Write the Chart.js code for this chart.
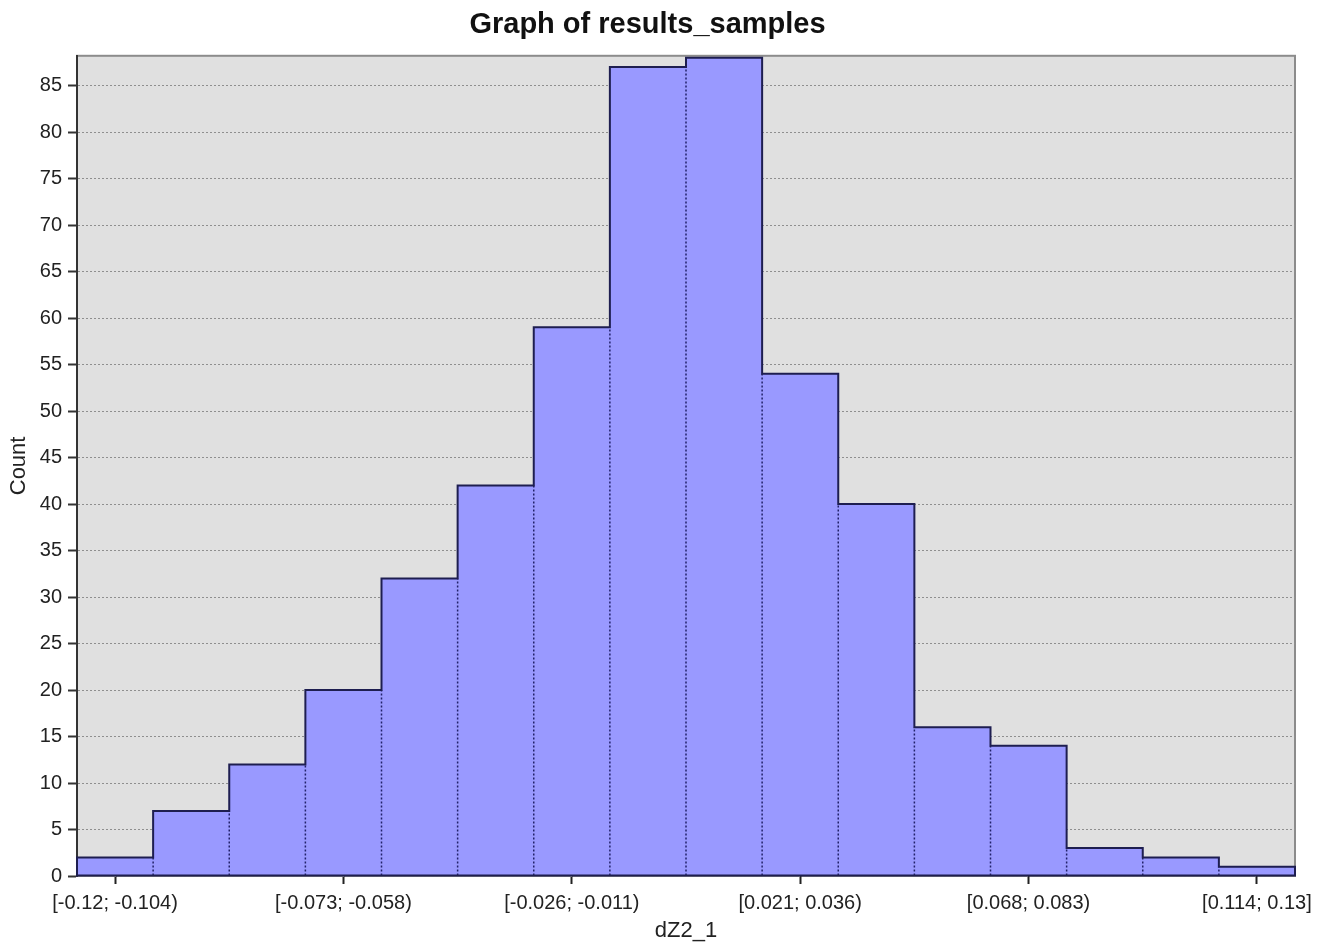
<!DOCTYPE html>
<html>
<head>
<meta charset="utf-8">
<title>Graph of results_samples</title>
<script src="https://cdn.jsdelivr.net/npm/chart.js@4.4.1/dist/chart.umd.min.js"></script>
<style>
  body { margin: 0; background: #fff; }
  canvas { display: block; }
</style>
</head>
<body>
<canvas id="histChart" width="1328" height="948"></canvas>
<script>
// bins of dZ2_1 and their counts
var binLabels = [
  '[-0.12; -0.104)', '[-0.104; -0.089)', '[-0.089; -0.073)', '[-0.073; -0.058)',
  '[-0.058; -0.042)', '[-0.042; -0.026)', '[-0.026; -0.011)', '[-0.011; 0.005)',
  '[0.005; 0.021)', '[0.021; 0.036)', '[0.036; 0.052)', '[0.052; 0.068)',
  '[0.068; 0.083)', '[0.083; 0.099)', '[0.099; 0.114)', '[0.114; 0.13]'
];
var counts = [2, 7, 12, 20, 32, 42, 59, 87, 88, 54, 40, 16, 14, 3, 2, 1];
var shownBins = [0, 3, 6, 9, 12, 15];
var yTickValues = [0, 5, 10, 15, 20, 25, 30, 35, 40, 45, 50, 55, 60, 65, 70, 75, 80, 85];
var yMax = 88.2;

Chart.defaults.font.family = "'Liberation Sans', Arial, sans-serif";
Chart.defaults.color = '#222';

// grey plot background with frame
var plotFrame = {
  id: 'plotFrame',
  beforeDraw: function(chart) {
    var a = chart.chartArea, ctx = chart.ctx;
    ctx.save();
    ctx.fillStyle = '#e0e0e0';
    ctx.fillRect(a.left, a.top, a.right - a.left, a.bottom - a.top);
    ctx.strokeStyle = '#8c8c8c';
    ctx.lineWidth = 2;
    ctx.strokeRect(a.left, a.top, a.right - a.left, a.bottom - a.top);
    ctx.restore();
  }
};

// solid step outline + dotted dividers between bins
var histOutline = {
  id: 'histOutline',
  afterDatasetsDraw: function(chart) {
    var bars = chart.getDatasetMeta(0).data;
    var ctx = chart.ctx;
    var props = bars.map(function(b) { return b.getProps(['x', 'y', 'base', 'width'], true); });
    ctx.save();
    ctx.strokeStyle = '#22226a';
    ctx.lineWidth = 1.5;
    ctx.setLineDash([2, 2]);
    for (var i = 1; i < props.length; i++) {
      var p = props[i - 1], q = props[i];
      var xb = p.x + p.width / 2;
      ctx.beginPath();
      ctx.moveTo(xb, p.base);
      ctx.lineTo(xb, Math.max(p.y, q.y));
      ctx.stroke();
    }
    ctx.setLineDash([]);
    ctx.beginPath();
    ctx.moveTo(props[0].x - props[0].width / 2, props[0].base);
    props.forEach(function(p) {
      ctx.lineTo(p.x - p.width / 2, p.y);
      ctx.lineTo(p.x + p.width / 2, p.y);
    });
    var last = props[props.length - 1];
    ctx.lineTo(last.x + last.width / 2, last.base);
    ctx.closePath();
    ctx.lineWidth = 2;
    ctx.strokeStyle = '#1e1e50';
    ctx.stroke();
    ctx.restore();
  }
};

var chart = new Chart(document.getElementById('histChart'), {
  type: 'bar',
  data: {
    labels: binLabels,
    datasets: [{
      label: 'Count',
      data: counts,
      backgroundColor: '#9999ff',
      borderWidth: 0,
      barPercentage: 1,
      categoryPercentage: 1
    }]
  },
  options: {
    responsive: false,
    animation: false,
    layout: { padding: { left: 0, right: 33, top: 0, bottom: 0 } },
    plugins: {
      legend: { display: false },
      tooltip: { enabled: false },
      title: {
        display: true,
        text: 'Graph of results_samples',
        color: '#111',
        font: { size: 29, weight: 'bold' },
        padding: { top: 8, bottom: 13 }
      }
    },
    scales: {
      x: {
        offset: true,
        grid: {
          offset: false,
          drawOnChartArea: false,
          tickLength: 8,
          tickWidth: 2,
          tickColor: function(ctx) {
            return shownBins.indexOf(ctx.index) >= 0 ? '#222' : 'rgba(0,0,0,0)';
          }
        },
        border: { display: false },
        ticks: {
          autoSkip: false,
          maxRotation: 0,
          minRotation: 0,
          padding: 7,
          font: { size: 20 },
          callback: function(v, i) {
            return shownBins.indexOf(i) >= 0 ? binLabels[i] : '';
          }
        },
        title: {
          display: true,
          text: 'dZ2_1',
          font: { size: 22 },
          padding: { top: 0, bottom: 4 }
        },
        afterFit: function(s) { s.height = 72; }
      },
      y: {
        min: 0,
        max: yMax,
        afterBuildTicks: function(s) {
          s.ticks = yTickValues.map(function(v) { return { value: v }; });
        },
        ticks: { padding: 6, font: { size: 20 } },
        grid: {
          color: '#8f8f8f',
          lineWidth: 1,
          tickColor: '#333',
          tickLength: 9,
          tickWidth: 2
        },
        border: { color: '#333', width: 2, dash: [2, 2] },
        title: {
          display: true,
          text: 'Count',
          font: { size: 22 },
          padding: { top: 6, bottom: 0 }
        },
        afterFit: function(s) { s.width = 77; }
      }
    }
  },
  plugins: [plotFrame, histOutline]
});
</script>
</body>
</html>
